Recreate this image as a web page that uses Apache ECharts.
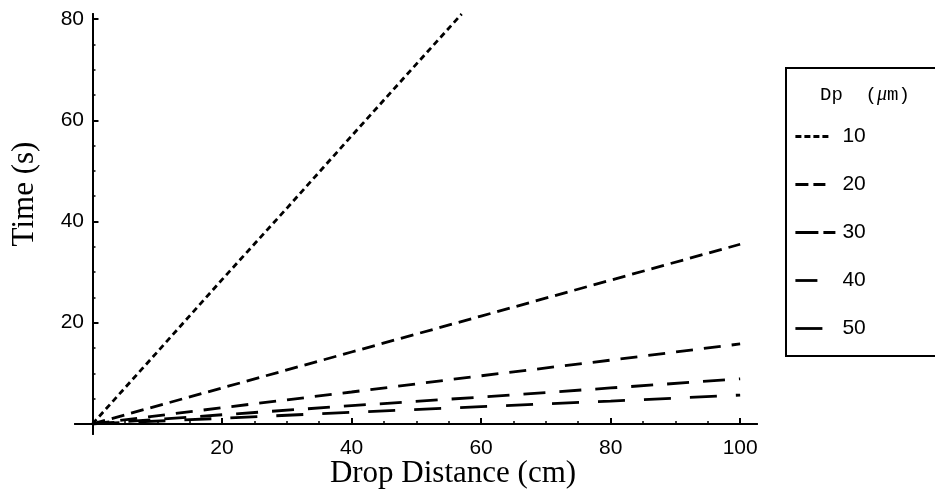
<!DOCTYPE html>
<html><head><meta charset="utf-8">
<script src="https://cdn.jsdelivr.net/npm/echarts@6/dist/echarts.min.js"></script>
<style>html,body{margin:0;padding:0;background:#fff}#c{width:935px;height:500px}</style>
</head><body><div id="c"></div>
<script>
// Particle diameters (legend labels, µm)
const seriesNames = ['10', '20', '30', '40', '50'];
// Drop distance (cm) and settling time (s)
const dist10 = [0, 10, 20, 30, 40, 50, 57];
const time10 = [0, 14.2, 28.5, 42.6, 56.9, 71.1, 81.0];
const dist = [0, 20, 40, 60, 80, 100];
const time20 = [0, 7.1, 14.2, 21.3, 28.4, 35.5];
const time30 = [0, 3.2, 6.3, 9.5, 12.6, 15.8];
const time40 = [0, 1.8, 3.6, 5.3, 7.1, 8.9];
const time50 = [0, 1.1, 2.3, 3.4, 4.5, 5.7];
// Tick labels / tick positions
const xMajor = [20, 40, 60, 80, 100];
const xMinor = [5, 10, 15, 25, 30, 35, 45, 50, 55, 65, 70, 75, 85, 90, 95];
const yMajor = [20, 40, 60, 80];
const yMinor = [5, 10, 15, 25, 30, 35, 45, 50, 55, 65, 70, 75];

const zip = (xs, ys) => xs.map((x, i) => [x, ys[i]]);
const dashes = [[6, 4], [13, 7], [17, 11], [22, 14], [27, 19]];
const legendDashes = [[6, 3, 6, 3, 6, 3, 6, 30], [13, 5, 12, 30], [23, 5, 12, 30], [22, 30], [27, 30]];
const allData = [zip(dist10, time10), zip(dist, time20), zip(dist, time30), zip(dist, time40), zip(dist, time50)];

const sans = 'Liberation Sans, Arial, sans-serif';
const serif = 'Liberation Serif, Times New Roman, serif';
const black = '#000';

const xBase = {
  type: 'value', min: -2.7, max: 102.6, position: 'bottom',
  axisLine: { onZero: true, lineStyle: { color: black, width: 2 } },
  splitLine: { show: false }
};
const yBase = {
  type: 'value', min: -2, max: 81, position: 'left',
  axisLine: { onZero: true, lineStyle: { color: black, width: 2 } },
  splitLine: { show: false }
};

const option = {
  animation: false,
  backgroundColor: '#fff',
  grid: { left: 75, right: 178, top: 14, bottom: 66, containLabel: false },
  xAxis: [
    Object.assign({}, xBase, {
      axisTick: { show: true, inside: true, length: 6, customValues: xMajor, lineStyle: { color: black, width: 2 } },
      axisLabel: { customValues: xMajor, color: black, fontSize: 21, fontFamily: sans, margin: 4 }
    }),
    Object.assign({}, xBase, {
      axisTick: { show: true, inside: true, length: 3, customValues: xMinor, lineStyle: { color: black, width: 1.5 } },
      axisLabel: { show: false }
    })
  ],
  yAxis: [
    Object.assign({}, yBase, {
      axisTick: { show: true, inside: true, length: 6, customValues: yMajor, lineStyle: { color: black, width: 2 } },
      axisLabel: { customValues: yMajor, color: black, fontSize: 21, fontFamily: sans, margin: -9 }
    }),
    Object.assign({}, yBase, {
      axisTick: { show: true, inside: true, length: 3, customValues: yMinor, lineStyle: { color: black, width: 1.5 } },
      axisLabel: { show: false }
    })
  ],
  legend: {
    data: seriesNames.map((n, i) => ({ name: n, lineStyle: { type: legendDashes[i], width: 2.8, color: black } })),
    orient: 'vertical', left: 789, top: 121,
    itemWidth: 42, itemHeight: 14, itemGap: 27,
    selectedMode: false,
    itemStyle: { opacity: 0, borderWidth: 0 },
    textStyle: { color: black, fontSize: 21, lineHeight: 21, fontFamily: sans }
  },
  graphic: [
    { type: 'rect', shape: { x: 786, y: 68, width: 200, height: 288 },
      style: { fill: 'none', stroke: black, lineWidth: 2 }, z: 10 },
    { type: 'text', x: 820, y: 95,
      style: { text: '{a|Dp  (}{b|μ}{a|m)}', verticalAlign: 'middle',
        rich: { a: { fontFamily: 'Liberation Mono, Courier New, monospace', fontSize: 19, fill: black },
                b: { fontFamily: 'Liberation Serif, serif', fontStyle: 'italic', fontSize: 20, fill: black } } }, z: 10 },
    { type: 'text', x: 453, y: 474,
      style: { text: 'Drop Distance (cm)', fontFamily: serif, fontSize: 31, fill: black, align: 'center', verticalAlign: 'middle' } },
    { type: 'text', x: 25, y: 194, rotation: Math.PI / 2,
      style: { text: 'Time (s)', fontFamily: serif, fontSize: 31, fill: black, align: 'center', verticalAlign: 'middle' } }
  ],
  series: seriesNames.map((n, i) => ({
    name: n, type: 'line', xAxisIndex: 0, yAxisIndex: 0,
    data: allData[i], symbol: 'none', showSymbol: false, clip: true,
    lineStyle: { color: black, width: 2.8, type: dashes[i] },
    itemStyle: { color: black }
  }))
};
echarts.init(document.getElementById('c')).setOption(option);
</script></body></html>
